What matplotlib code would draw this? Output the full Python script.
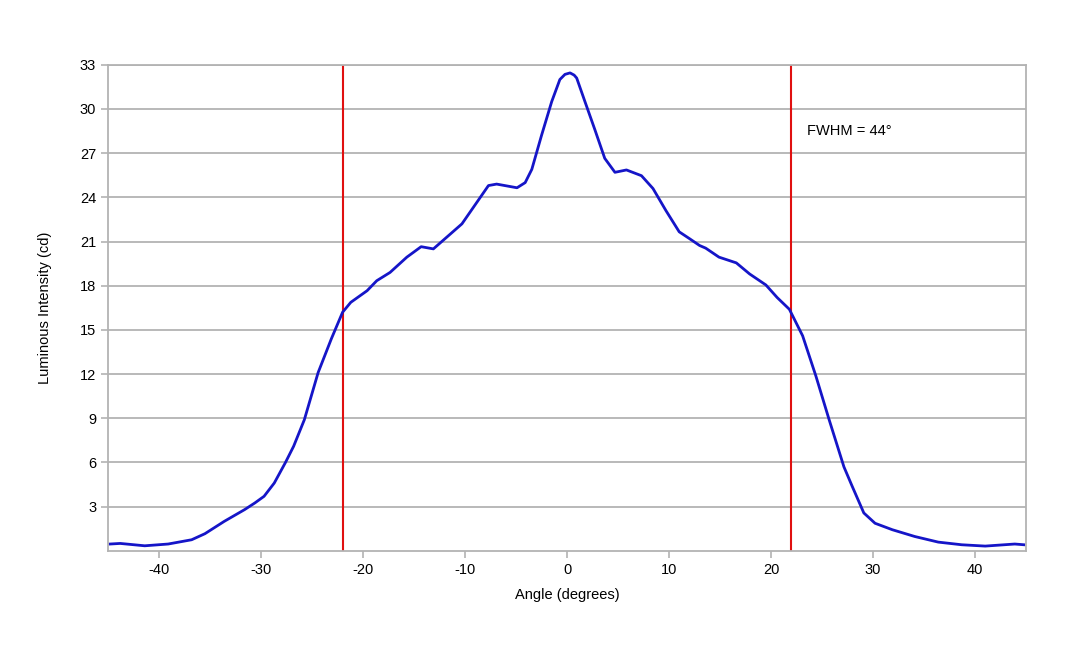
import matplotlib
matplotlib.use('Agg')
import matplotlib.pyplot as plt

# angle (degrees) vs luminous intensity (cd)
angle = [-44.8, -43.8, -41.4, -39.1, -36.8, -35.5, -33.6, -31.6, -30.6, -29.7,
         -28.7, -27.6, -26.8, -25.75, -24.4, -23.1, -22.0, -21.2, -19.6, -18.65,
         -17.35, -15.7, -14.3, -13.1, -11.7, -10.3, -9.0, -7.7, -6.9, -4.9,
         -4.1, -3.45, -2.5, -1.5, -0.7, -0.2, 0.3, 0.7, 0.95, 1.76, 2.73, 3.7,
         4.7, 5.83, 7.3, 8.43, 9.7, 11.0, 12.0, 13.0, 13.6, 14.9,
         16.6, 17.9, 19.5, 20.6, 21.8, 23.1, 24.4, 25.7, 27.15, 27.96,
         29.1, 30.2, 31.9, 34.1, 36.4, 38.7, 41.0, 43.9, 44.8]
intensity = [0.46, 0.50, 0.34, 0.46, 0.75, 1.16, 2.0, 2.8, 3.25, 3.7,
             4.6, 6.0, 7.1, 8.9, 12.1, 14.4, 16.2, 16.87, 17.66, 18.34,
             18.9, 19.94, 20.65, 20.5, 21.35, 22.2, 23.5, 24.8, 24.9, 24.65,
             25.0, 25.9, 28.2, 30.5, 32.0, 32.35, 32.45, 32.3, 32.1, 30.5, 28.6, 26.65,
             25.7, 25.86, 25.47, 24.6, 23.1, 21.66, 21.2, 20.73, 20.55, 19.94,
             19.55, 18.8, 18.05, 17.2, 16.4, 14.6, 11.87, 8.9, 5.7, 4.38,
             2.57, 1.87, 1.43, 0.97, 0.59, 0.41, 0.32, 0.46, 0.41]

fwhm_edges = [-22, 22]
fwhm_label = 'FWHM = 44°'
xticks = [-40, -30, -20, -10, 0, 10, 20, 30, 40]
yticks = [3, 6, 9, 12, 15, 18, 21, 24, 27, 30, 33]

plt.rcParams['font.family'] = ['Liberation Sans', 'DejaVu Sans']
plt.rcParams['axes.unicode_minus'] = False

grey = '#b3b3b3'
fig = plt.figure(figsize=(10.8, 6.48), dpi=100)
ax = fig.add_axes([0.1, 0.15, 0.85, 0.75])

ax.set_xlim(-45, 45)
ax.set_ylim(0, 33)
ax.set_xticks(xticks)
ax.set_yticks(yticks)
ax.yaxis.grid(True, color=grey, linewidth=1.3)
ax.set_axisbelow(True)
for s in ax.spines.values():
    s.set_color(grey)
    s.set_linewidth(1.3)
ax.tick_params(colors=grey, labelcolor='black', labelsize=10.5, length=5, width=1.2)

for x in fwhm_edges:
    ax.axvline(x, color='#e01010', linewidth=1.5)

ax.plot(angle, intensity, color='#1515c8', linewidth=2.0, solid_joinstyle='round')

ax.text(23.5, 28.5, fwhm_label, fontsize=10.5, va='center', ha='left')

ax.set_xlabel('Angle (degrees)', fontsize=10.5, labelpad=8)
ax.set_ylabel('Luminous Intensity (cd)', fontsize=10.5, labelpad=20)

fig.savefig('out.png', dpi=100)
